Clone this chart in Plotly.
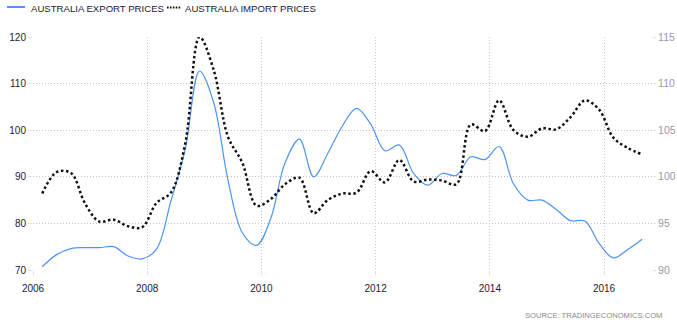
import plotly.graph_objects as go

# Quarterly price indices, Mar 2006 .. Sep 2016
quarters = [f"{y}-{m:02d}-01" for y in range(2006, 2017) for m in (3, 6, 9, 12)][:43]

export_prices = [
    70.7, 73.3, 74.6, 74.8,
    74.8, 75.0, 73.0, 72.4,
    74.5, 84.8, 96.0, 112.7,
    106.0, 89.3, 78.0, 75.3,
    81.0, 93.0, 98.1, 90.0,
    95.0, 100.8, 104.7, 101.3,
    95.6, 96.8, 90.7, 88.2,
    90.7, 90.3, 94.3, 93.7,
    96.5, 88.5, 85.0, 85.0,
    83.0, 80.6, 80.5, 75.7,
    72.6, 74.4, 76.6,
]

import_prices = [
    98.2, 100.5, 100.4, 97.1,
    95.2, 95.4, 94.7, 94.6,
    97.2, 98.3, 103.6, 115.0,
    111.5, 104.3, 101.5, 96.9,
    97.6, 99.2, 99.9, 96.1,
    97.5, 98.2, 98.3, 100.6,
    99.4, 101.8, 99.5, 99.7,
    99.6, 99.2, 105.6, 104.9,
    108.2, 105.0, 104.3, 105.2,
    105.1, 106.4, 108.2, 107.2,
    104.2, 103.1, 102.4,
]

left_ticks = [70, 80, 90, 100, 110, 120]
right_ticks = [90, 95, 100, 105, 110, 115]

export_name = "AUSTRALIA EXPORT PRICES"
import_name = "AUSTRALIA IMPORT PRICES"
source_text = "SOURCE: TRADINGECONOMICS.COM"

BLUE = "#4f95f0"
GRID = "#c4c4c4"
FONT = "Liberation Sans, Arial, sans-serif"

W, H = 677, 324
ML, MR, MT, MB = 33, 25, 37, 54
PW, PH = W - ML - MR, H - MT - MB


def px_x(px):
    return (px - ML) / PW


def px_y(py):
    return (H - MB - py) / PH


fig = go.Figure()
fig.add_trace(go.Scatter(
    x=quarters, y=export_prices, name=export_name, mode="lines",
    line=dict(color=BLUE, width=1.2, shape="spline"),
    yaxis="y",
))
fig.add_trace(go.Scatter(
    x=quarters, y=import_prices, name=import_name, mode="lines",
    line=dict(color="#111111", width=2.5, shape="spline", dash="2.5px,2.6px"),
    yaxis="y2",
))

# Hand-drawn legend row across the top
shapes = [
    dict(type="line", xref="paper", yref="paper",
         x0=px_x(7), x1=px_x(25), y0=px_y(7), y1=px_y(7),
         line=dict(color=BLUE, width=2)),
    dict(type="line", xref="paper", yref="paper",
         x0=px_x(167), x1=px_x(181), y0=px_y(7.5), y1=px_y(7.5),
         line=dict(color="#111111", width=2, dash="1.6px,1.3px")),
]
annotations = [
    dict(text=export_name, xref="paper", yref="paper", x=px_x(29), y=px_y(8.5),
         xanchor="left", yanchor="middle", showarrow=False,
         font=dict(family=FONT, size=9.6, color="#222233")),
    dict(text=import_name, xref="paper", yref="paper", x=px_x(183), y=px_y(8.5),
         xanchor="left", yanchor="middle", showarrow=False,
         font=dict(family=FONT, size=9.6, color="#222233")),
    dict(text=source_text, xref="paper", yref="paper", x=px_x(664), y=px_y(315.5),
         xanchor="right", yanchor="middle", showarrow=False,
         font=dict(family=FONT, size=7.6, color="#8a8a8a")),
]

fig.update_layout(
    width=W, height=H,
    margin=dict(l=ML, r=MR, t=MT, b=MB, pad=0),
    paper_bgcolor="white", plot_bgcolor="white",
    showlegend=False,
    font=dict(family=FONT, size=10, color="#222233"),
    shapes=shapes,
    annotations=annotations,
    xaxis=dict(
        type="date",
        range=["2006-01-01", "2016-11-03"],
        tick0="2006-01-01", dtick="M24", tickformat="%Y",
        showgrid=True, gridcolor=GRID, griddash="1px,2px", gridwidth=1,
        showline=False, zeroline=False,
        ticks="outside", ticklen=4, tickcolor="#e2e2e2",
        ticklabelstandoff=5,
        tickfont=dict(family=FONT, size=10, color="#222233"),
        automargin=False,
    ),
    yaxis=dict(
        range=[70, 120], tickvals=left_ticks,
        showgrid=True, gridcolor=GRID, griddash="1px,2px", gridwidth=1,
        showline=False, zeroline=False,
        ticks="outside", ticklen=4, tickcolor="#e2e2e2",
        tickfont=dict(family=FONT, size=10, color="#222233"),
        automargin=False,
    ),
    yaxis2=dict(
        range=[90, 115], tickvals=right_ticks,
        overlaying="y", side="right",
        showgrid=False, showline=False, zeroline=False,
        ticks="outside", ticklen=3, tickcolor="#e2e2e2",
        tickfont=dict(family=FONT, size=10.5, color="#9a9aa6"),
        automargin=False,
    ),
)

fig.write_html("out.html")
